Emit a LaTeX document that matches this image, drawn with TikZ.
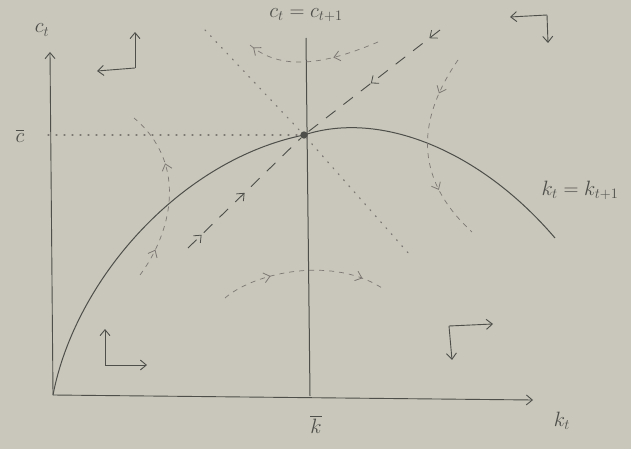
\documentclass[tikz,border=0pt]{standalone}
\usepackage{amsmath,amssymb}
\usetikzlibrary{arrows.meta, positioning, decorations.markings}
\definecolor{paper}{RGB}{201,199,187}
\definecolor{pencil}{RGB}{78,78,74}
\definecolor{faint}{RGB}{125,120,116}

\begin{document}
\begin{tikzpicture}[
  x=1pt, y=-1pt,
  >={Straight Barb[length=6pt,width=10pt]}, every node/.style={font=\huge, text=pencil, inner sep=1pt},
  axis/.style={pencil, line width=0.9pt},
  locus/.style={pencil, line width=1pt},
  traj/.style={faint, dash pattern=on 5pt off 5pt, line width=0.7pt},
  arm/.style={faint, dash pattern=on 1pt off 7pt, line width=1.2pt, line cap=round},
  saddle/.style={pencil, dash pattern=on 12pt off 10pt, line width=0.9pt},
  tip at/.style={postaction={decorate, decoration={markings,
      mark=at position #1 with {\arrow[solid, line width=0.8pt]{>}}}}}
]
  \useasboundingbox[fill=paper] (0,0) rectangle (631,449);

  % axes and loci
  \coordinate (O) at (53,395);
  \coordinate (ytip) at (50,52);
  \coordinate (xtip) at (533,400);
  \coordinate (ktop) at (306,38);
  \coordinate (kbot) at (310,396);
  \coordinate (cleft) at (48,135);
  \coordinate (kend) at (555,238);
  \node[circle, fill=pencil, inner sep=2.6pt] (ss) at (304,135) {};

  \draw[axis, ->] (O) -- (ytip);
  \draw[axis, ->] (O) -- (xtip);
  \draw[locus] (ktop) -- (kbot);
  \draw[arm] (cleft) -- (ss);
  \draw[locus] (O) .. controls (75,280) and (180,160) .. (ss.center)
    .. controls (380,110) and (480,150) .. (kend);

  % labels
  \node (ct) at (42,30) {$c_t$};
  \node (cbar) at (20,136) {$\overline{c}$};
  \node (cloc) at (306,15) {$c_t=c_{t+1}$};
  \node (kbar) at (316,424) {$\overline{k}$};
  \node (kt) at (562,421) {$k_t$};
  \node (kloc) at (580,190) {$k_t=k_{t+1}$};

  % saddle path and unstable arm
  \coordinate (sa) at (188,248);
  \coordinate (sb) at (440,30);
  \coordinate (ua) at (205,30);
  \coordinate (ub) at (410,255);
  \draw[saddle, tip at=0.12, tip at=0.5] (sa) -- (ss);
  \draw[saddle, tip at=0.08, tip at=0.52] (sb) -- (ss);
  \draw[arm] (ua) -- (ss) -- (ub);

  % trajectories
  \coordinate (la) at (140,275);
  \coordinate (lb) at (134,118);
  \draw[traj, tip at=0.17, tip at=0.68] (la) .. controls (170,235) and (190,165) .. (lb);
  \coordinate (ta) at (378,42);
  \coordinate (tb) at (250,45);
  \draw[traj, tip at=0.35, tip at=0.97] (ta) .. controls (335,60) and (285,75) .. (tb);
  \coordinate (ra) at (458,60);
  \coordinate (rb) at (472,232);
  \draw[traj, tip at=0.2, tip at=0.72] (ra) .. controls (420,115) and (410,175) .. (rb);
  \coordinate (ba) at (225,298);
  \coordinate (bb) at (385,290);
  \draw[traj, tip at=0.3, tip at=0.85] (ba) .. controls (255,272) and (335,255) .. (bb);

  % direction arrows
  \coordinate (ul) at (135,68);
  \draw[axis, ->] (ul) -- ++(0,-36);
  \draw[axis, ->] (ul) -- ++(-38,3);
  \coordinate (ur) at (547,15);
  \draw[axis, ->] (ur) -- ++(-37,2);
  \draw[axis, ->] (ur) -- ++(1,28);
  \coordinate (ll) at (105,365);
  \draw[axis, ->] (ll) -- ++(0,-36);
  \draw[axis, ->] (ll) -- ++(42,0);
  \coordinate (lr) at (449,326);
  \draw[axis, ->] (lr) -- ++(44,-2);
  \draw[axis, ->] (lr) -- ++(3,34);
\end{tikzpicture}
\end{document}
